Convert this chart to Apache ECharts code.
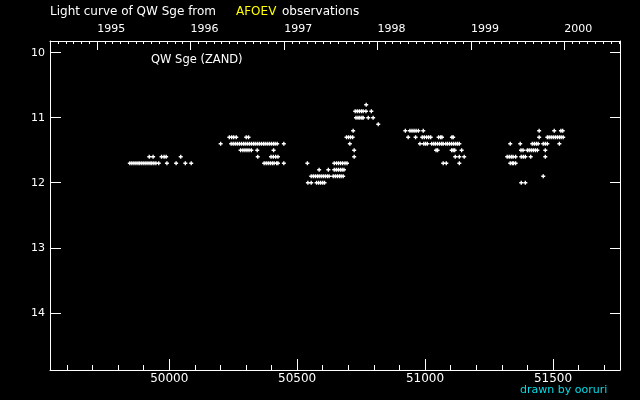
<!DOCTYPE html>
<html>
<head>
<meta charset="utf-8">
<script src="https://cdn.jsdelivr.net/npm/echarts@6/dist/echarts.min.js"></script>
<style>html,body{margin:0;padding:0;background:#000;}#c{width:640px;height:400px;}</style>
</head>
<body>
<div id="c"></div>
<script>
// Observations: [JD - 2400000, visual magnitude]
const season1995 = [
  [49846,11.7],[49854,11.7],[49862,11.7],[49870,11.7],[49878,11.7],[49885,11.7],[49893,11.7],[49901,11.7],
  [49909,11.7],[49917,11.7],[49925,11.7],[49932,11.7],[49940,11.7],[49948,11.7],[49959,11.7],[49991,11.7],
  [50027,11.7],[50063,11.7],[50086,11.7],
  [49922,11.6],[49937,11.6],[49970,11.6],[49980,11.6],[49988,11.6],[50045,11.6]
];
const season1996 = [
  [50235,11.3],[50244,11.3],[50252,11.3],[50262,11.3],[50301,11.3],[50310,11.3],
  [50201,11.4],[50242,11.4],[50250,11.4],[50258,11.4],[50266,11.4],[50274,11.4],[50282,11.4],[50290,11.4],
  [50297,11.4],[50305,11.4],[50313,11.4],[50321,11.4],[50329,11.4],[50336,11.4],[50344,11.4],[50352,11.4],
  [50360,11.4],[50368,11.4],[50375,11.4],[50383,11.4],[50391,11.4],[50399,11.4],[50407,11.4],[50414,11.4],
  [50422,11.4],[50448,11.4],
  [50279,11.5],[50288,11.5],[50296,11.5],[50304,11.5],[50312,11.5],[50321,11.5],[50344,11.5],[50408,11.5],
  [50346,11.6],[50398,11.6],[50407,11.6],[50416,11.6],[50425,11.6],
  [50371,11.7],[50379,11.7],[50387,11.7],[50395,11.7],[50403,11.7],[50410,11.7],[50420,11.7],[50425,11.7],[50448,11.7]
];
const season1997 = [
  [50770,10.8],
  [50727,10.9],[50735,10.9],[50743,10.9],[50751,10.9],[50758,10.9],[50769,10.9],[50790,10.9],
  [50730,11.0],[50738,11.0],[50745,11.0],[50753,11.0],[50758,11.0],[50778,11.0],[50797,11.0],
  [50817,11.1],[50719,11.2],
  [50693,11.3],[50701,11.3],[50709,11.3],[50717,11.3],
  [50706,11.4],[50723,11.5],[50723,11.6],
  [50540,11.7],[50645,11.7],[50654,11.7],[50662,11.7],[50670,11.7],[50678,11.7],[50687,11.7],[50695,11.7],
  [50586,11.8],[50622,11.8],[50645,11.8],[50653,11.8],[50661,11.8],[50669,11.8],[50676,11.8],[50683,11.8],
  [50555,11.9],[50563,11.9],[50571,11.9],[50579,11.9],[50586,11.9],[50594,11.9],[50602,11.9],[50610,11.9],
  [50618,11.9],[50625,11.9],[50641,11.9],[50649,11.9],[50657,11.9],[50665,11.9],[50672,11.9],[50680,11.9],
  [50542,12.0],[50555,12.0],[50576,12.0],[50584,12.0],[50592,12.0],[50600,12.0],[50607,12.0]
];
const season1998 = [
  [50923,11.2],[50941,11.2],[50949,11.2],[50957,11.2],[50965,11.2],[50974,11.2],[50993,11.2],
  [50934,11.3],[50963,11.3],[50989,11.3],[50997,11.3],[51006,11.3],[51014,11.3],[51022,11.3],[51053,11.3],
  [51061,11.3],[51066,11.3],[51105,11.3],[51110,11.3],
  [50980,11.4],[50995,11.4],[51002,11.4],[51009,11.4],[51026,11.4],[51034,11.4],[51041,11.4],[51049,11.4],
  [51057,11.4],[51065,11.4],[51071,11.4],[51081,11.4],[51088,11.4],[51096,11.4],[51104,11.4],[51112,11.4],
  [51120,11.4],[51127,11.4],[51134,11.4],
  [51043,11.5],[51049,11.5],[51104,11.5],[51110,11.5],[51116,11.5],[51143,11.5],
  [51118,11.6],[51134,11.6],[51153,11.6],
  [51071,11.7],[51083,11.7],[51134,11.7]
];
const season1999 = [
  [51446,11.2],[51505,11.2],[51531,11.2],[51538,11.2],
  [51446,11.3],[51478,11.3],[51485,11.3],[51493,11.3],[51501,11.3],[51509,11.3],[51517,11.3],[51525,11.3],
  [51532,11.3],[51540,11.3],
  [51333,11.4],[51372,11.4],[51419,11.4],[51427,11.4],[51435,11.4],[51442,11.4],[51462,11.4],[51470,11.4],
  [51478,11.4],[51525,11.4],
  [51375,11.5],[51383,11.5],[51400,11.5],[51407,11.5],[51415,11.5],[51423,11.5],[51431,11.5],[51439,11.5],[51470,11.5],
  [51321,11.6],[51329,11.6],[51337,11.6],[51344,11.6],[51354,11.6],[51376,11.6],[51384,11.6],[51392,11.6],
  [51413,11.6],[51470,11.6],
  [51333,11.7],[51341,11.7],[51346,11.7],[51354,11.7],
  [51462,11.9],[51376,12.0],[51392,12.0]
];

// Axis ticks / labels
const jdMajorTicks = [50000, 50500, 51000, 51500];
const magTicks = [10, 11, 12, 13, 14];
const yearLabels = ['1995', '1996', '1997', '1998', '1999', '2000'];
const yearJD = [49718.5, 50083.5, 50449.5, 50814.5, 51179.5, 51544.5];

const XMIN = 49534, XMAX = 51762, YMIN = 9.82, YMAX = 14.88;

const jdMinorTicks = [];
for (let v = 49600; v <= XMAX; v += 100) jdMinorTicks.push(v);
const monthTicks = [];
for (let y = 1994; y <= 2000; y++) {
  for (let m = 0; m < 12; m++) {
    const jd = Date.UTC(y, m, 1) / 86400000 + 40587.5;
    if (jd >= XMIN && jd <= XMAX) monthTicks.push(jd);
  }
}

const FONT = 'DejaVu Sans';
const white = '#ffffff';
const lineStyle = { color: white, width: 1 };
const labelStyle = { color: white, fontFamily: FONT, fontSize: 11 };

const plus = 'path://M1,0H2V1H3V2H2V3H1V2H0V1H1Z';

const allObs = [].concat(season1995, season1996, season1997, season1998, season1999);

const titleStyle = function (color, size) {
  return { color: color, fontFamily: FONT, fontSize: size, fontWeight: 'normal' };
};

const chart = echarts.init(document.getElementById('c'), null, { renderer: 'canvas' });
chart.setOption({
  backgroundColor: '#000000',
  animation: false,
  title: [
    { text: 'Light curve of QW Sge from', left: 50, top: 6, padding: 0, textStyle: titleStyle(white, 12) },
    { text: 'AFOEV', left: 236, top: 6, padding: 0, textStyle: titleStyle('#ffff00', 12) },
    { text: 'observations', left: 282, top: 6, padding: 0, textStyle: titleStyle(white, 12) },
    { text: 'QW Sge (ZAND)', left: 151, top: 54, padding: 0, textStyle: titleStyle(white, 11.5) },
    { text: 'drawn by ooruri', left: 520, top: 385, padding: 0, textStyle: titleStyle('#00dde8', 11) }
  ],
  grid: { left: 50, right: 20, top: 41, bottom: 30, containLabel: false },
  xAxis: [
    { type: 'value', position: 'bottom', min: XMIN, max: XMAX,
      axisLine: { show: true, lineStyle: lineStyle },
      axisTick: { show: true, inside: true, length: 11, lineStyle: lineStyle, customValues: jdMajorTicks },
      axisLabel: Object.assign({}, labelStyle, { show: true, margin: 3, fontSize: 12, customValues: jdMajorTicks,
        formatter: function (v) { return String(Math.round(v)); } }),
      splitLine: { show: false } },
    { type: 'value', position: 'bottom', min: XMIN, max: XMAX,
      axisLine: { show: false },
      axisTick: { show: true, inside: true, length: 5, lineStyle: lineStyle, customValues: jdMinorTicks },
      axisLabel: { show: false },
      splitLine: { show: false } },
    { type: 'value', position: 'top', min: XMIN, max: XMAX,
      axisLine: { show: true, lineStyle: lineStyle },
      axisTick: { show: true, inside: true, length: 9, lineStyle: lineStyle, customValues: yearJD },
      axisLabel: Object.assign({ show: true, margin: 6, align: 'left', customValues: yearJD,
        formatter: function (v) {
          let best = 0;
          for (let i = 0; i < yearJD.length; i++) if (Math.abs(yearJD[i] - v) < Math.abs(yearJD[best] - v)) best = i;
          return yearLabels[best];
        } }, labelStyle),
      splitLine: { show: false } },
    { type: 'value', position: 'top', min: XMIN, max: XMAX,
      axisLine: { show: false },
      axisTick: { show: true, inside: true, length: 3, lineStyle: lineStyle, customValues: monthTicks },
      axisLabel: { show: false },
      splitLine: { show: false } }
  ],
  yAxis: [
    { type: 'value', position: 'left', inverse: true, min: YMIN, max: YMAX,
      axisLine: { show: true, lineStyle: lineStyle },
      axisTick: { show: true, inside: true, length: 11, lineStyle: lineStyle, customValues: magTicks },
      axisLabel: Object.assign({ show: true, margin: 5, customValues: magTicks }, labelStyle),
      splitLine: { show: false } },
    { type: 'value', position: 'right', inverse: true, min: YMIN, max: YMAX,
      axisLine: { show: true, lineStyle: lineStyle },
      axisTick: { show: true, inside: true, length: 10, lineStyle: lineStyle, customValues: magTicks },
      axisLabel: { show: false },
      splitLine: { show: false } }
  ],
  series: [
    { type: 'scatter', xAxisIndex: 0, yAxisIndex: 0, data: allObs,
      symbol: plus, symbolSize: 4, itemStyle: { color: white, opacity: 1 } }
  ]
});
</script>
</body>
</html>
